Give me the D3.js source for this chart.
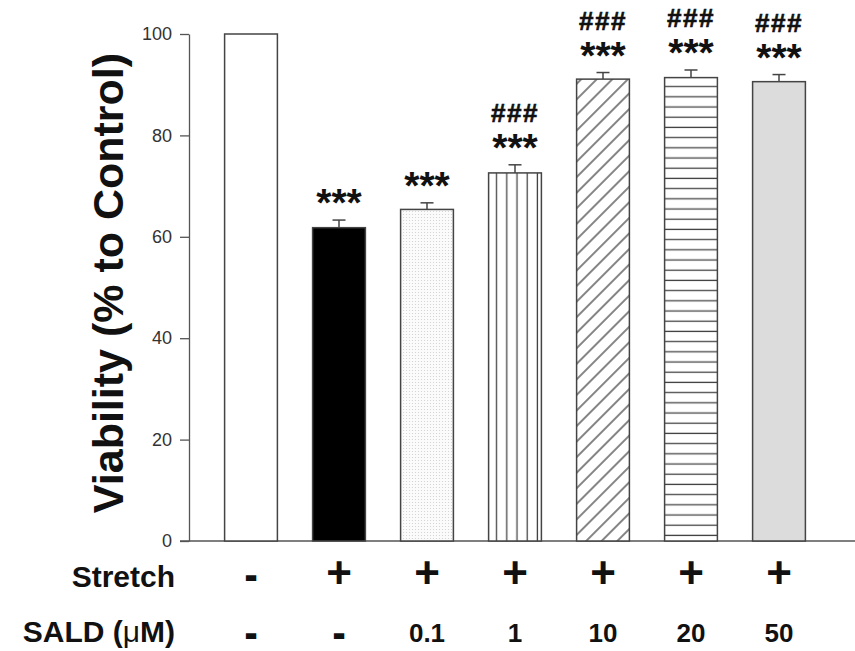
<!DOCTYPE html>
<html>
<head>
<meta charset="utf-8">
<script src="https://cdn.jsdelivr.net/npm/d3@7"></script>
<style>
  body { margin: 0; background: #fff; }
  svg { font-family: Arial, "Liberation Sans", sans-serif; }
</style>
</head>
<body>
<div id="chart"></div>
<script>
var groups = ["ctrl", "s0", "s0.1", "s1", "s10", "s20", "s50"];
var viability = [100, 61.8, 65.4, 72.6, 91.1, 91.4, 90.6];
var errorTop = [100, 63.3, 66.7, 74.2, 92.4, 92.9, 92.0];
var stars = ["", "***", "***", "***", "***", "***", "***"];
var hashes = ["", "", "", "###", "###", "###", "###"];
var stretchRow = ["-", "+", "+", "+", "+", "+", "+"];
var saldRow = ["-", "-", "0.1", "1", "10", "20", "50"];
var yTicks = [0, 20, 40, 60, 80, 100];

var fills = ["#fff", "#000", "url(#dots)", "url(#vlines)", "url(#diag)", "url(#hlines)", "#dcdcdc"];

var svg = d3.select("#chart")
  .append("svg")
    .attr("width", 855)
    .attr("height", 651);

// hatch patterns
var defs = svg.append("defs");

var dots = defs.append("pattern")
  .attr("id", "dots")
  .attr("width", 3).attr("height", 3)
  .attr("patternUnits", "userSpaceOnUse");
dots.append("rect").attr("width", 3).attr("height", 3).attr("fill", "#fbfbfb");
dots.append("circle").attr("cx", 1.5).attr("cy", 1.5).attr("r", 0.55).attr("fill", "#cfcfcf");

var vl = defs.append("pattern")
  .attr("id", "vlines")
  .attr("width", 10.2).attr("height", 10)
  .attr("x", 2)
  .attr("patternUnits", "userSpaceOnUse");
vl.append("rect").attr("width", 10.2).attr("height", 10).attr("fill", "#fff");
vl.append("line").attr("x1", 5).attr("x2", 5).attr("y1", 0).attr("y2", 10)
  .attr("stroke", "#444").attr("stroke-width", 1.3);

var dg = defs.append("pattern")
  .attr("id", "diag")
  .attr("width", 11).attr("height", 11)
  .attr("patternUnits", "userSpaceOnUse")
  .attr("patternTransform", "rotate(45)");
dg.append("rect").attr("width", 11).attr("height", 11).attr("fill", "#fff");
dg.append("line").attr("x1", 5).attr("x2", 5).attr("y1", 0).attr("y2", 11)
  .attr("stroke", "#333").attr("stroke-width", 1.2);

var hl = defs.append("pattern")
  .attr("id", "hlines")
  .attr("width", 10).attr("height", 10.2)
  .attr("patternUnits", "userSpaceOnUse");
hl.append("rect").attr("width", 10).attr("height", 10.2).attr("fill", "#fff");
hl.append("line").attr("x1", 0).attr("x2", 10).attr("y1", 5).attr("y2", 5)
  .attr("stroke", "#444").attr("stroke-width", 1.3);

var x = d3.scaleBand()
  .domain(groups)
  .range([207, 823])
  .paddingInner(0.4)
  .paddingOuter(0.2);

var y = d3.scaleLinear()
  .domain([0, 100])
  .range([541, 34]);

var cx = i => x(groups[i]) + x.bandwidth() / 2;

// y axis
var yAxis = svg.append("g")
  .attr("transform", "translate(189,0)")
  .call(d3.axisLeft(y).tickValues(yTicks).tickSize(9).tickPadding(8).tickSizeOuter(0));
yAxis.attr("font-size", 18);
yAxis.select(".domain").attr("stroke", "#555").attr("stroke-width", 1.3);
yAxis.selectAll(".tick line").attr("stroke", "#555").attr("stroke-width", 1.3);
yAxis.selectAll(".tick text")
  .attr("font-size", 18)
  .attr("fill", "#333")
  .style("font-family", "Arial, 'Liberation Sans', sans-serif");

// x axis baseline
svg.append("line")
  .attr("x1", 180).attr("x2", 855)
  .attr("y1", y(0)).attr("y2", y(0))
  .attr("stroke", "#555").attr("stroke-width", 1.3);

// bars
svg.selectAll(".bar")
  .data(viability)
  .enter()
  .append("rect")
    .attr("class", "bar")
    .attr("x", (d, i) => x(groups[i]))
    .attr("y", d => y(d))
    .attr("width", x.bandwidth())
    .attr("height", d => y(0) - y(d))
    .attr("fill", (d, i) => fills[i])
    .attr("stroke", "#444")
    .attr("stroke-width", 1.5);

// error bars (upper only)
var errIdx = d3.range(groups.length).filter(i => errorTop[i] > viability[i]);
var err = svg.selectAll(".err")
  .data(errIdx)
  .enter()
  .append("g")
    .attr("class", "err");
err.append("line")
  .attr("x1", i => cx(i)).attr("x2", i => cx(i))
  .attr("y1", i => y(viability[i]))
  .attr("y2", i => y(errorTop[i]))
  .attr("stroke", "#444").attr("stroke-width", 1.5);
err.append("line")
  .attr("x1", i => cx(i) - 6.5).attr("x2", i => cx(i) + 6.5)
  .attr("y1", i => y(errorTop[i])).attr("y2", i => y(errorTop[i]))
  .attr("stroke", "#444").attr("stroke-width", 1.5);

// significance marks
svg.selectAll(".star")
  .data(stars)
  .enter()
  .append("text")
    .attr("class", "star")
    .attr("x", (d, i) => cx(i))
    .attr("y", (d, i) => y(errorTop[i]) - 4)
    .attr("text-anchor", "middle")
    .attr("font-size", 39)
    .attr("font-weight", "bold")
    .attr("fill", "#111")
    .text(d => d);

svg.selectAll(".hash")
  .data(hashes)
  .enter()
  .append("text")
    .attr("class", "hash")
    .attr("x", (d, i) => cx(i))
    .attr("y", (d, i) => y(errorTop[i]) - 43)
    .attr("text-anchor", "middle")
    .attr("font-size", 26)
    .attr("font-weight", "bold")
    .attr("letter-spacing", 1.5)
    .attr("stroke", "#111")
    .attr("stroke-width", 0.6)
    .attr("fill", "#111")
    .text(d => d);

// y title
svg.append("text")
  .attr("transform", "translate(123,283) rotate(-90)")
  .attr("text-anchor", "middle")
  .attr("font-size", 43)
  .attr("font-weight", "bold")
  .attr("fill", "#111")
  .text("Viability (% to Control)");

// condition rows
svg.append("text")
  .attr("x", 175).attr("y", 587)
  .attr("text-anchor", "end")
  .attr("font-size", 30)
  .attr("font-weight", "bold")
  .attr("fill", "#111")
  .text("Stretch");

var sald = svg.append("text")
  .attr("x", 175).attr("y", 642)
  .attr("text-anchor", "end")
  .attr("font-size", 30)
  .attr("font-weight", "bold")
  .attr("fill", "#111");
sald.append("tspan").text("SALD (");
sald.append("tspan").attr("font-weight", "normal").text("\u03bc");
sald.append("tspan").text("M)");

// "-" drawn smaller with a stroke so it stays thick but inside the page
var signAttrs = sel => sel
  .attr("text-anchor", "middle")
  .attr("font-weight", "bold")
  .attr("fill", "#111")
  .attr("stroke", d => d === "-" ? "#111" : "none")
  .attr("stroke-width", d => d === "-" ? 2.2 : 0)
  .attr("font-size", d => d === "-" ? 32 : (d === "+" ? 44 : 26));

svg.selectAll(".srow")
  .data(stretchRow)
  .enter()
  .append("text")
    .attr("class", "srow")
    .attr("x", (d, i) => cx(i))
    .attr("y", d => d === "-" ? 586 : 588)
    .call(signAttrs)
    .text(d => d);

svg.selectAll(".drow")
  .data(saldRow)
  .enter()
  .append("text")
    .attr("class", "drow")
    .attr("x", (d, i) => cx(i))
    .attr("y", d => d === "-" ? 643.5 : 642)
    .call(signAttrs)
    .text(d => d);
</script>
</body>
</html>
